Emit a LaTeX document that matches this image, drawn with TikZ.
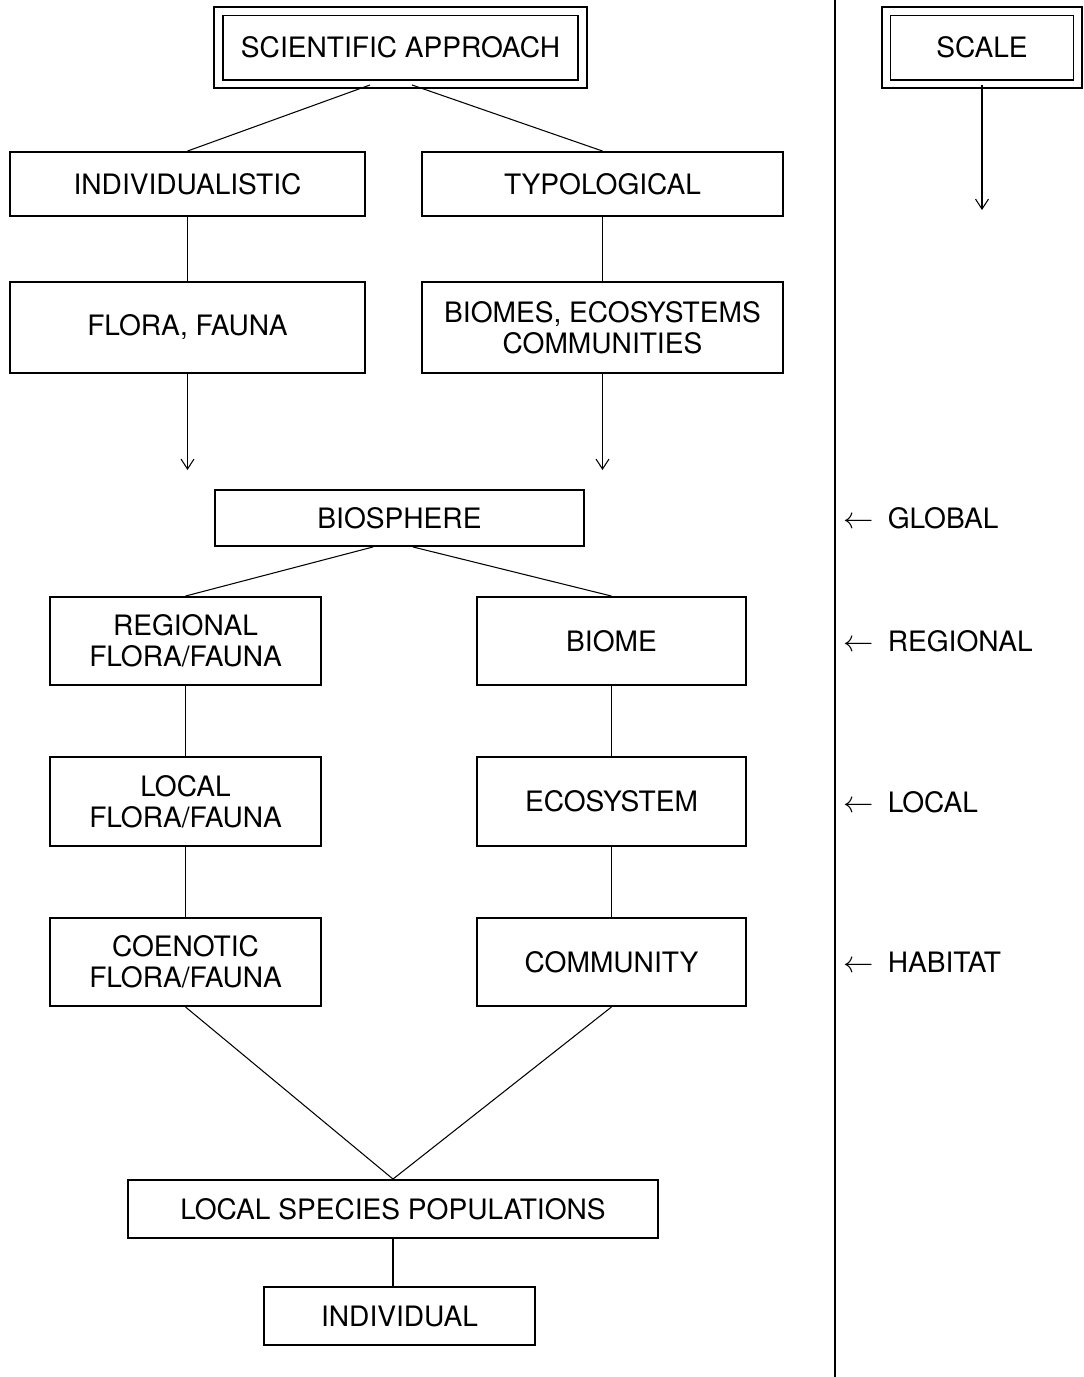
\documentclass[tikz,border=0pt]{standalone}
\usepackage{fontspec}
\setmainfont{TeX Gyre Heros}
\usetikzlibrary{arrows.meta}
\begin{document}
\begin{tikzpicture}[
	x=0.02cm, y=-0.02cm,
	% Define the styles for the boxes and lines
	every node/.style={font=\fontsize{16}{17.6}\selectfont, align=center, inner sep=0pt},
	box/.style={draw, line width=1.1pt},
	dbox/.style={draw, line width=1.1pt, double, double distance=0.14cm},
	link/.style={line width=0.6pt},
	arr/.style={link, -{Straight Barb[length=2mm, width=2.6mm]}}
	]
	
	\useasboundingbox (0,0) rectangle (1084,1377);
	
	% --- HEADINGS ---
	\node (sa) at (400.5, 47.5) [dbox, minimum width=7.28cm, minimum height=1.46cm] {SCIENTIFIC APPROACH};
	\node (scale) at (982, 47.5) [dbox, minimum width=3.84cm, minimum height=1.46cm] {SCALE};
	
	% --- APPROACHES ---
	\node (indiv) at (187.5, 184) [box, minimum width=7.1cm, minimum height=1.28cm] {INDIVIDUALISTIC};
	\node (typo) at (602.5, 184) [box, minimum width=7.22cm, minimum height=1.28cm] {TYPOLOGICAL};
	\node (flora) at (187.5, 327.5) [box, minimum width=7.1cm, minimum height=1.82cm] {FLORA, FAUNA};
	\node (biomes) at (602.5, 327.5) [box, minimum width=7.22cm, minimum height=1.82cm] {BIOMES, ECOSYSTEMS\\COMMUNITIES};
	
	\coordinate (fa) at (187.5, 470);
	\coordinate (ba) at (602.5, 470);
	
	% --- LEVELS ---
	\node (bio) at (399.5, 518) [box, minimum width=7.38cm, minimum height=1.12cm] {BIOSPHERE};
	\node (reg) at (185.5, 641) [box, minimum width=5.42cm, minimum height=1.76cm] {REGIONAL\\FLORA/FAUNA};
	\node (biome) at (611.5, 641) [box, minimum width=5.38cm, minimum height=1.76cm] {BIOME};
	\node (loc) at (185.5, 801.5) [box, minimum width=5.42cm, minimum height=1.78cm] {LOCAL\\FLORA/FAUNA};
	\node (eco) at (611.5, 801.5) [box, minimum width=5.38cm, minimum height=1.78cm] {ECOSYSTEM};
	\node (coe) at (185.5, 962) [box, minimum width=5.42cm, minimum height=1.76cm] {COENOTIC\\FLORA/FAUNA};
	\node (com) at (611.5, 962) [box, minimum width=5.38cm, minimum height=1.76cm] {COMMUNITY};
	\node (lsp) at (393, 1209) [box, minimum width=10.6cm, minimum height=1.16cm] {LOCAL SPECIES POPULATIONS};
	\node (ind) at (399.5, 1316) [box, minimum width=5.42cm, minimum height=1.16cm] {INDIVIDUAL};
	
	% --- SCALE ---
	\coordinate (top) at (835, 0);
	\coordinate (bot) at (835, 1377);
	\coordinate (sa-end) at (982, 210);
	
	\node (glob) at (843, 518) [anchor=west] {$\leftarrow$\enspace GLOBAL};
	\node (regl) at (843, 641) [anchor=west] {$\leftarrow$\enspace REGIONAL};
	\node (locl) at (843, 802) [anchor=west] {$\leftarrow$\enspace LOCAL};
	\node (habl) at (843, 962) [anchor=west] {$\leftarrow$\enspace HABITAT};
	
	% --- EDGES ---
	\draw[link] ([xshift=-0.61cm]sa.south) -- (indiv.north);
	\draw[link] ([xshift=0.23cm]sa.south) -- (typo.north);
	\draw[link] (indiv.south) -- (flora.north);
	\draw[link] (typo.south) -- (biomes.north);
	\draw[arr] (flora.south) -- (fa);
	\draw[arr] (biomes.south) -- (ba);
	
	\draw[link] ([xshift=-0.53cm]bio.south) -- (reg.north);
	\draw[link] ([xshift=0.27cm]bio.south) -- (biome.north);
	\draw[link] (reg.south) -- (loc.north);
	\draw[link] (loc.south) -- (coe.north);
	\draw[link] (biome.south) -- (eco.north);
	\draw[link] (eco.south) -- (com.north);
	\draw[link] (coe.south) -- (lsp.north);
	\draw[link] (com.south) -- (lsp.north);
	\draw[link] (lsp.south) -- (lsp.south |- ind.north);
	
	\draw[link] (top) -- (bot);
	\draw[arr] (scale.south) -- (sa-end);
	
\end{tikzpicture}
\end{document}
